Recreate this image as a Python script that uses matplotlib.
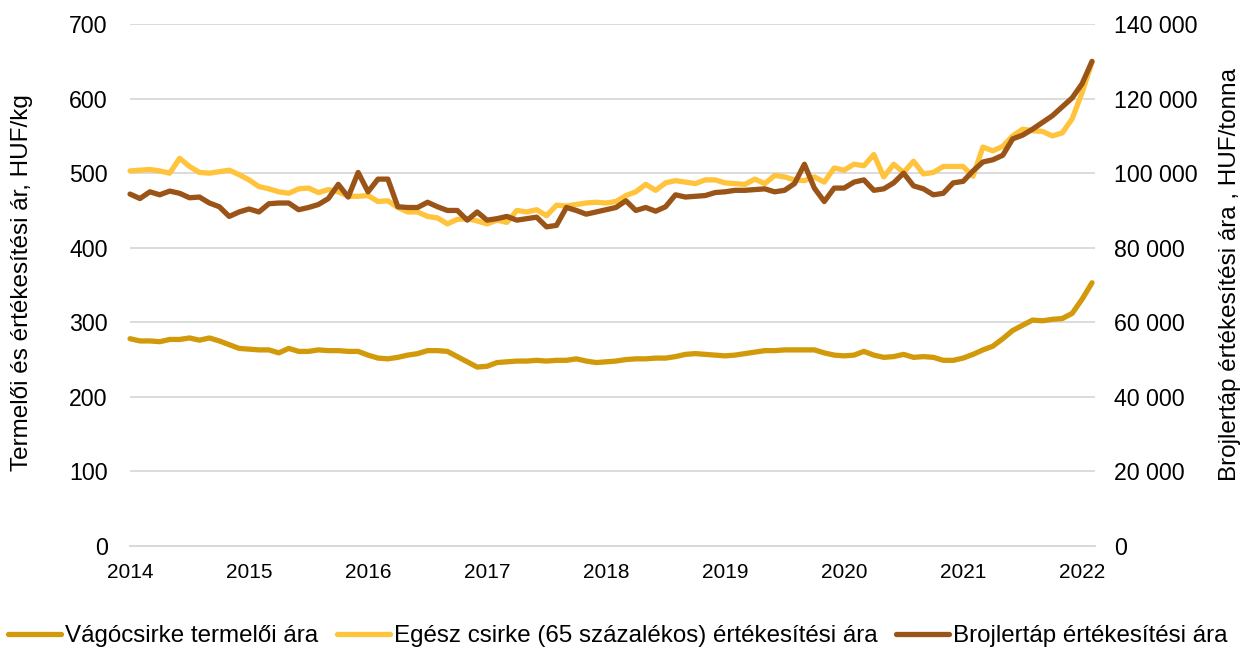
import matplotlib
matplotlib.use("Agg")
import matplotlib.pyplot as plt
from matplotlib.ticker import FuncFormatter, MultipleLocator

plt.rcParams['font.family'] = ['Liberation Sans', 'DejaVu Sans']

years = ["2014", "2015", "2016", "2017", "2018", "2019", "2020", "2021", "2022"]

# monthly data Jan 2014 - Feb 2022
vagocsirke = [278, 275, 275, 274, 277, 277, 279, 276, 279, 275, 270, 265,
              264, 263, 263, 259, 265, 261, 261, 263, 262, 262, 261, 261,
              256, 252, 251, 253, 256, 258, 262, 262, 261, 254, 247, 240,
              241, 246, 247, 248, 248, 249, 248, 249, 249, 251, 248, 246,
              247, 248, 250, 251, 251, 252, 252, 254, 257, 258, 257, 256,
              255, 256, 258, 260, 262, 262, 263, 263, 263, 263, 259, 256,
              255, 256, 261, 256, 253, 254, 257, 253, 254, 253, 249, 249,
              252, 257, 263, 268, 278, 289, 296, 303, 302, 304, 305, 312,
              331, 353]

egesz_csirke = [503, 504, 505, 503, 500, 520, 509, 501, 500, 502, 504, 498,
                491, 482, 479, 475, 473, 479, 480, 474, 478, 475, 469, 469,
                470, 462, 463, 454, 448, 448, 442, 440, 432, 438, 439, 436,
                432, 437, 434, 450, 448, 451, 443, 457, 456, 458, 460, 461,
                460, 462, 470, 475, 485, 477, 487, 490, 488, 486, 491, 491,
                487, 486, 485, 492, 486, 497, 495, 491, 490, 495, 488, 507,
                504, 512, 510, 525, 495, 512, 501, 516, 499, 501, 509, 509,
                509, 496, 535, 530, 536, 550, 559, 557, 556, 550, 554, 573,
                608, 649]

brojlertap = [94400, 93200, 95000, 94200, 95200, 94600, 93400, 93600, 92000, 91000, 88400, 89600,
              90400, 89600, 91800, 92000, 92000, 90200, 90800, 91600, 93200, 97000, 93600, 100200,
              95000, 98400, 98400, 91000, 90800, 90800, 92200, 91000, 90000, 90000, 87400, 89600,
              87400, 87800, 88400, 87400, 87800, 88200, 85600, 86000, 90800, 90000, 89000, 89600,
              90200, 90800, 92600, 90000, 90800, 89800, 91000, 94200, 93600, 93800, 94000, 94800,
              95000, 95400, 95400, 95600, 95800, 95000, 95400, 97200, 102400, 96000, 92400, 96000,
              96000, 97600, 98200, 95400, 95800, 97400, 100000, 96600, 95800, 94200, 94600, 97400,
              97800, 100600, 103000, 103600, 104800, 109200, 110200, 111800, 113600, 115400, 117800, 120200,
              124000, 130000]

c_vago = "#D29A0A"
c_egesz = "#FFC33C"
c_brojler = "#9A5417"

fig = plt.figure(figsize=(12.48, 6.5), dpi=100)
ax = fig.add_axes([0.1042, 0.16, 0.7732, 0.803])
ax2 = ax.twinx()

x = list(range(len(vagocsirke)))
lw = 3.8
l1, = ax.plot(x, vagocsirke, color=c_vago, lw=lw, solid_capstyle='round', solid_joinstyle='round', zorder=3, clip_on=False)
l2, = ax.plot(x, egesz_csirke, color=c_egesz, lw=lw, solid_capstyle='round', solid_joinstyle='round', zorder=3, clip_on=False)
l3, = ax2.plot(x, brojlertap, color=c_brojler, lw=lw, solid_capstyle='round', solid_joinstyle='round', zorder=4, clip_on=False)

ax.set_ylim(0, 700)
ax2.set_ylim(0, 140000)
ax.set_xlim(0, 97.3)
ax.yaxis.set_major_locator(MultipleLocator(100))
ax2.yaxis.set_major_locator(MultipleLocator(20000))
ax2.yaxis.set_major_formatter(FuncFormatter(lambda v, p: f"{int(v):,}".replace(",", " ")))

ax.set_xticks([i * 12 for i in range(len(years))])
ax.set_xticklabels(years)

ax.grid(axis='y', color='#D9D9D9', lw=1.3, zorder=0)
ax.set_axisbelow(True)
for a in (ax, ax2):
    for s in ('top', 'left', 'right'):
        a.spines[s].set_visible(False)
    a.spines['bottom'].set_color('#D9D9D9')
    a.spines['bottom'].set_linewidth(1.3)
ax.tick_params(axis='y', length=0, labelsize=16.7, colors='black', pad=16)
ax.tick_params(axis='x', length=0, labelsize=15, colors='black', pad=12)
ax2.tick_params(axis='y', length=0, labelsize=16.7, pad=14)

ax.set_ylabel("Termelői és értékesítési ár, HUF/kg", fontsize=17.5)
ax2.set_ylabel("Brojlertáp értékesítési ára , HUF/tonna", fontsize=17.5)
ax.yaxis.set_label_coords(-0.101, 0.505)
ax2.yaxis.set_label_coords(1.128, 0.52)

fig.legend([l1, l2, l3],
           ["Vágócsirke termelői ára", "Egész csirke (65 százalékos) értékesítési ára", "Brojlertáp értékesítési ára"],
           loc='center', bbox_to_anchor=(0.495, 0.0215), ncol=3, frameon=False,
           fontsize=17.4, handlelength=2.2, handletextpad=0.18, columnspacing=0.75,
           borderpad=0, borderaxespad=0)

fig.savefig("out.png", dpi=100)
